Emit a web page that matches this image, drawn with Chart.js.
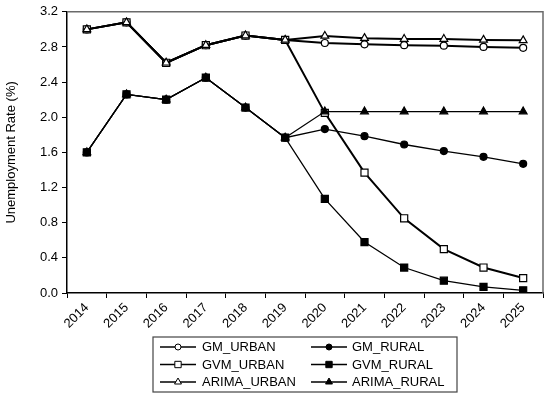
<!DOCTYPE html>
<html>
<head>
<meta charset="utf-8">
<script src="https://cdn.jsdelivr.net/npm/chart.js@4.4.1/dist/chart.umd.min.js"></script>
<style>
html,body{margin:0;padding:0;background:#fff;}
#wrap{width:550px;height:400px;position:relative;}
</style>
</head>
<body>
<div id="wrap"><canvas id="c" width="550" height="400"></canvas></div>
<script>
const years = ['2014','2015','2016','2017','2018','2019','2020','2021','2022','2023','2024','2025'];
const yTicks = [0.0,0.4,0.8,1.2,1.6,2.0,2.4,2.8,3.2];

const gmUrban    = [3.00,3.08,2.62,2.82,2.93,2.88,2.845,2.83,2.82,2.815,2.80,2.79];
const gmRural    = [1.60,2.26,2.20,2.45,2.11,1.767,1.865,1.785,1.69,1.615,1.55,1.47];
const gvmUrban   = [3.00,3.08,2.62,2.82,2.93,2.88,2.05,1.37,0.85,0.50,0.29,0.17];
const gvmRural   = [1.60,2.26,2.20,2.45,2.11,1.767,1.07,0.58,0.29,0.14,0.07,0.03];
const arimaUrban = [3.00,3.08,2.62,2.82,2.93,2.88,2.925,2.90,2.89,2.89,2.88,2.875];
const arimaRural = [1.60,2.26,2.20,2.45,2.11,1.767,2.065,2.065,2.065,2.065,2.065,2.065];

function ds(label, data, style, open, width, radius) {
  return {
    label: label, data: data,
    borderColor: '#000', borderWidth: width,
    pointStyle: style, pointRadius: radius, pointHoverRadius: radius,
    pointBackgroundColor: open ? '#fff' : '#000',
    pointBorderColor: '#000', pointBorderWidth: 1.2,
    backgroundColor: open ? '#fff' : '#000',
    tension: 0, fill: false
  };
}

// draw order: later datasets on top
const datasets = [
  ds('GM_URBAN', gmUrban, 'circle', true, 2, 3.5),
  ds('GM_RURAL', gmRural, 'circle', false, 1.3, 3.5),
  ds('GVM_URBAN', gvmUrban, 'rect', true, 2, 5),
  ds('GVM_RURAL', gvmRural, 'rect', false, 1.3, 5),
  ds('ARIMA_URBAN', arimaUrban, 'triangle', true, 2, 4.5),
  ds('ARIMA_RURAL', arimaRural, 'triangle', false, 1.3, 4.5)
];
datasets.forEach((d, i) => { d.order = datasets.length - i; });

const framePlugin = {
  id: 'frame',
  beforeDatasetsDraw(chart) {
    const a = chart.chartArea, ctx = chart.ctx;
    ctx.save();
    ctx.strokeStyle = '#6a6a6a';
    ctx.lineWidth = 1.5;
    ctx.beginPath();
    ctx.moveTo(a.left, a.top);
    ctx.lineTo(a.right, a.top);
    ctx.lineTo(a.right, a.bottom);
    ctx.stroke();
    ctx.restore();
  }
};

const legendPlugin = {
  id: 'customLegend',
  afterDraw(chart) {
    const ctx = chart.ctx;
    const box = {x: 153, y: 337, w: 304, h: 55};
    ctx.save();
    ctx.strokeStyle = '#444';
    ctx.lineWidth = 1.2;
    ctx.strokeRect(box.x, box.y, box.w, box.h);
    const cols = [{x0: 160, x1: 196, tx: 202}, {x0: 311, x1: 347, tx: 352}];
    const rows = [347, 364.5, 382];
    ctx.font = '13px "Liberation Sans", Arial, sans-serif';
    ctx.textBaseline = 'middle';
    ctx.textAlign = 'left';
    const legendOrder = ['GM_URBAN','GM_RURAL','GVM_URBAN','GVM_RURAL','ARIMA_URBAN','ARIMA_RURAL'];
    legendOrder.forEach((lab, i) => {
      const d = chart.data.datasets.find(s => s.label === lab);
      const c = cols[i % 2], y = rows[Math.floor(i / 2)];
      ctx.strokeStyle = '#000';
      ctx.lineWidth = 1.5;
      ctx.beginPath();
      ctx.moveTo(c.x0, y); ctx.lineTo(c.x1, y); ctx.stroke();
      ctx.fillStyle = d.pointBackgroundColor;
      ctx.strokeStyle = '#000';
      ctx.lineWidth = 1;
      Chart.helpers.drawPoint(ctx, {pointStyle: d.pointStyle, radius: d.pointStyle === 'rect' ? 4.5 : (d.pointStyle === 'triangle' ? 4 : 3), rotation: 0, borderWidth: 1}, (c.x0 + c.x1) / 2, y);
      ctx.fillStyle = '#000';
      ctx.fillText(lab, c.tx, y + 0.5);
    });
    ctx.restore();
  }
};

new Chart(document.getElementById('c'), {
  type: 'line',
  data: { labels: years, datasets: datasets },
  options: {
    responsive: false,
    animation: false,
    devicePixelRatio: 1,
    layout: { padding: { left: 0, right: 7, top: 11, bottom: 0 } },
    plugins: { legend: { display: false }, tooltip: { enabled: false } },
    scales: {
      x: {
        type: 'category',
        offset: true,
        grid: { offset: true, drawOnChartArea: false, drawTicks: true, tickLength: 5, color: '#000', lineWidth: 1 },
        border: { color: '#000', width: 1.5 },
        ticks: { minRotation: 45, maxRotation: 45, color: '#000', padding: 2,
                 font: { family: '"Liberation Sans", Arial, sans-serif', size: 13 } },
        afterFit(s) { s.height = 107; }
      },
      y: {
        min: 0, max: 3.2,
        afterBuildTicks(s) { s.ticks = yTicks.map(v => ({ value: v })); },
        grid: { drawOnChartArea: false, drawTicks: true, tickLength: 5, color: '#000', lineWidth: 1 },
        border: { color: '#000', width: 1.5 },
        ticks: { color: '#000', padding: 4,
                 font: { family: '"Liberation Sans", Arial, sans-serif', size: 13 },
                 callback: v => Number(v).toFixed(1) },
        title: { display: true, text: 'Unemployment Rate (%)', color: '#000',
                 font: { family: '"Liberation Sans", Arial, sans-serif', size: 13 }, padding: { top: 4, bottom: 4 } },
        afterFit(s) { s.width = 67; }
      }
    }
  },
  plugins: [framePlugin, legendPlugin]
});
</script>
</body>
</html>
